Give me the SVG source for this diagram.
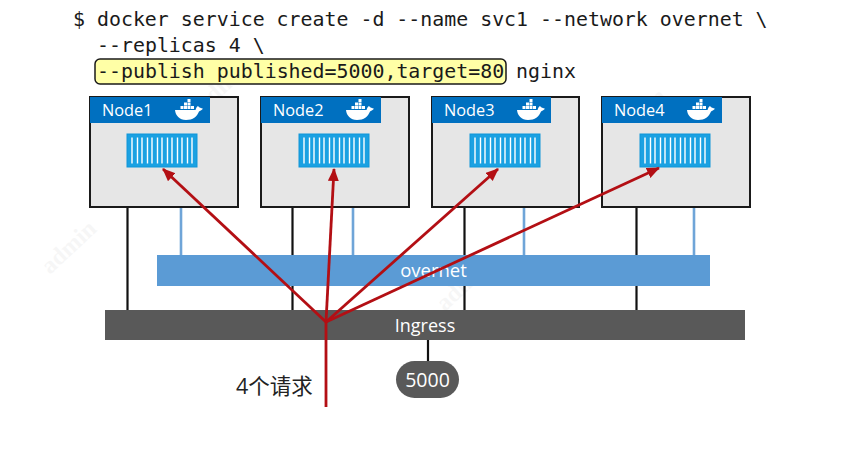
<svg xmlns="http://www.w3.org/2000/svg" width="854" height="449" viewBox="0 0 854 449">
<style>
.cmd{font-family:"DejaVu Sans Mono","Liberation Mono",monospace;font-size:19.9px;fill:#1a1a1a}
.box{fill:#e6e6e6;stroke:#1a1a1a;stroke-width:2}
.hdr{fill:#0070c0}
.lbl{font-family:"Open Sans","Noto Sans",sans-serif;font-size:16.3px;fill:#fff}
.ctr{fill:#1ba1e2;stroke:#1196d8;stroke-width:1}
.rib{stroke:#fff;stroke-width:1.4}
.blk{stroke:#111;stroke-width:2.2;fill:none}
.blu{stroke:#6fa5d8;stroke-width:2.6;fill:none}
.red{stroke:#b30f14;stroke-width:2.8;fill:none}
.wm{font-family:"Liberation Serif",serif;font-size:24px;font-weight:700;fill:#000;opacity:.03}
</style>
<defs>
<marker id="ah" markerUnits="userSpaceOnUse" markerWidth="14" markerHeight="12" refX="12" refY="5.500" orient="auto"><path d="M0 0L13 5.500L0 11Z" fill="#b30f14"/></marker>
<g id="whale" fill="#fff">
<rect x="5.500" y="7" width="3" height="3"/><rect x="9" y="7" width="3" height="3"/><rect x="12.500" y="7" width="3" height="3"/><rect x="16" y="7" width="3" height="3"/>
<rect x="9" y="3.500" width="3" height="3"/><rect x="12.500" y="3.500" width="3" height="3"/><rect x="12.500" y="0" width="3" height="3"/>
<path d="M0 11H20.500C21 9.500 21.500 8 23 7C23.800 8 24.800 8.800 28 9.800C26.500 11.500 25 12 24 12.500C22 17.500 18 21 11 21C4.500 21 .5 16.500 0 11Z"/>
</g>
<g id="box">
<rect class="ctr" x="0" y="0" width="70" height="33"/>
<path class="rib" d="M5 3.500V29.500M10.500 3.500V29.500M15 3.500V29.500M20.500 3.500V29.500M25 3.500V29.500M30.500 3.500V29.500M35 3.500V29.500M40.500 3.500V29.500M45 3.500V29.500M50.500 3.500V29.500M55 3.500V29.500M60.500 3.500V29.500M65 3.500V29.500"/>
</g>
</defs>
<rect width="854" height="449" fill="#fff"/>
<g id="watermarks">
<text class="wm" transform="translate(50 275) rotate(-43)">admin</text>
<text class="wm" transform="translate(620 143) rotate(-43)">admin</text>
<text class="wm" transform="translate(445 312) rotate(-43)">admin</text>
<text class="wm" transform="translate(205 112) rotate(-43)">admin</text>
</g>
<g id="command">
<rect x="95" y="59" width="411" height="25" rx="5" fill="#ffffa6" stroke="#1a1a1a" stroke-width="1.500"/>
<text class="cmd" x="73" y="26" xml:space="preserve">$ docker service create -d --name svc1 --network overnet \</text>
<text class="cmd" x="97" y="52">--replicas 4 \</text>
<text class="cmd" x="97" y="78">--publish published=5000,target=80</text>
<text class="cmd" x="516" y="78">nginx</text>
</g>
<g id="connectors-back">
<path class="blk" d="M127.500 207V310M292.500 207V310M464.500 207V310M636.500 207V310M428 340V362"/>
<path class="blu" d="M181 167V255M353 167V255M524 167V255M694 167V255"/>
</g>
<g id="node1"><rect class="box" x="90" y="97" width="148" height="110"/><rect class="hdr" x="90" y="97" width="120" height="26"/><text class="lbl" x="102" y="116">Node1</text><use href="#whale" x="175" y="99"/><use href="#box" x="127" y="134"/></g>
<g id="node2"><rect class="box" x="261" y="97" width="148" height="110"/><rect class="hdr" x="261" y="97" width="120" height="26"/><text class="lbl" x="273" y="116">Node2</text><use href="#whale" x="346" y="99"/><use href="#box" x="299" y="134"/></g>
<g id="node3"><rect class="box" x="432" y="97" width="147" height="110"/><rect class="hdr" x="432" y="97" width="119" height="26"/><text class="lbl" x="444" y="116">Node3</text><use href="#whale" x="517" y="99"/><use href="#box" x="470" y="134"/></g>
<g id="node4"><rect class="box" x="602" y="97" width="148" height="110"/><rect class="hdr" x="602" y="97" width="120" height="26"/><text class="lbl" x="614" y="116">Node4</text><use href="#whale" x="687" y="99"/><use href="#box" x="640" y="134"/></g>
<g id="overnet"><rect x="157" y="255" width="553" height="31" fill="#5b9bd5"/><text class="lbl" x="433.500" y="277" text-anchor="middle" style="font-size:18.500px">overnet</text></g>
<g id="ingress"><rect x="105" y="310" width="640" height="30" fill="#595959"/><text class="lbl" x="425" y="332" text-anchor="middle" style="font-size:18px">Ingress</text></g>
<g id="port5000"><rect x="396" y="361" width="63" height="37" rx="18.500" fill="#595959"/><text class="lbl" x="427.500" y="387" text-anchor="middle" style="font-size:19.500px">5000</text></g>
<g id="connectors">
<path class="red" d="M326 407V322"/>
<path class="red" marker-end="url(#ah)" d="M326 322L163 169"/>
<path class="red" marker-end="url(#ah)" d="M326 322L334 169"/>
<path class="red" marker-end="url(#ah)" d="M326 322L498 169"/>
<path class="red" marker-end="url(#ah)" d="M326 322L659 168"/>
</g>
<text x="236" y="394" font-family="'Open Sans','Noto Sans CJK SC',sans-serif" font-size="21.500" fill="#222">4个请求</text>
</svg>
